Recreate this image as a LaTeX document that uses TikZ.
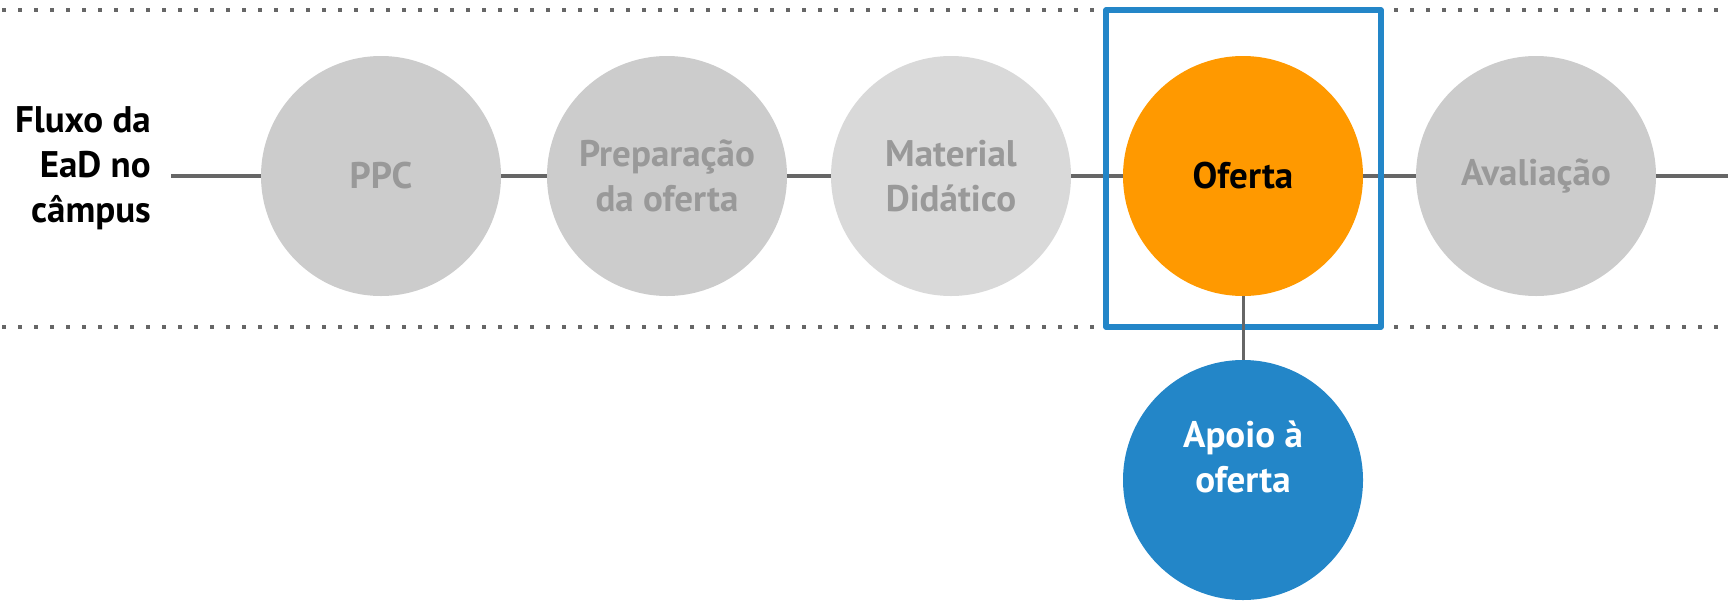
\documentclass[tikz,border=0pt]{standalone}
\usepackage{fontspec}
\setmainfont{PT Sans}
\definecolor{cgray}{HTML}{CCCCCC}
\definecolor{clight}{HTML}{D9D9D9}
\definecolor{tgray}{HTML}{999999}
\definecolor{lgray}{HTML}{666666}
\definecolor{corange}{HTML}{FF9900}
\definecolor{cblue}{HTML}{2386C8}
\begin{document}
\begin{tikzpicture}[x=1pt,y=-1pt,
  stage/.style={circle, minimum size=240pt, inner sep=0pt, align=center,
    font=\fontsize{37}{45}\selectfont\bfseries, fill=cgray, text=tgray},
  link/.style={draw=lgray, line width=4pt},
  dotline/.style={draw=lgray, line width=3.5pt, dash pattern=on 3.5pt off 12.5pt},
  frame/.style={draw=cblue, line width=5.5pt, line join=round}]
\useasboundingbox (0,0) rectangle (1728,600);
% dotted separators
\draw[dotline] (2,10) -- (1728,10);
\draw[dotline] (2,327) -- (1728,327);
% title
\node[anchor=east, align=right, inner sep=0pt, font=\fontsize{37}{45}\selectfont\bfseries] (title) at (151,168) {Fluxo da\\EaD no\\câmpus};
\coordinate (start) at (171,176);
\coordinate (finish) at (1728,176);
% stages
\node[stage] (ppc) at (381,176) {PPC};
\node[stage] (prep) at (667,176) {Preparação\\da oferta};
\node[stage, fill=clight] (mat) at (951,176) {Material\\Didático};
\node[stage, fill=corange, text=black] (oferta) at (1243,176) {Oferta};
\node[stage] (aval) at (1536,176) {Avaliação};
\node[stage, fill=cblue, text=white] (apoio) at (1243,480) {};
\node[align=center, text=white, font=\fontsize{37}{45}\selectfont\bfseries] (apoiotxt) at (1243,457) {Apoio à\\oferta};
% connectors
\draw[link] (start) -- (ppc);
\draw[link] (ppc) -- (prep);
\draw[link] (prep) -- (mat);
\draw[link] (mat) -- (oferta);
\draw[link] (oferta) -- (aval);
\draw[link] (aval) -- (finish);
% highlight frame
\draw[frame] (1106,10) rectangle (1381,327);
\draw[draw=lgray, line width=3pt] (oferta.south) -- (apoio.north);
\end{tikzpicture}
\end{document}
